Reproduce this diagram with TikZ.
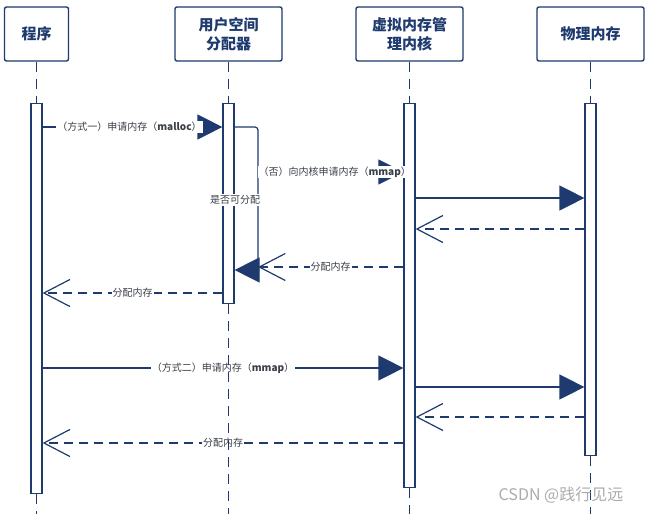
\documentclass[tikz,border=0pt]{standalone}
\usepackage{fontspec}
\setmainfont{Noto Sans CJK SC}
\usetikzlibrary{arrows.meta,positioning,calc}
\definecolor{Navy}{HTML}{1E3A6E}
\definecolor{Ink}{HTML}{3A3F48}
\definecolor{Mark}{HTML}{ABABAB}
\tikzset{
  actor/.style={draw=Navy,fill=white,line width=1.4pt,rounded corners=2pt,minimum width=107pt,minimum height=54pt,align=center,text=Navy,font=\fontsize{15}{19}\selectfont\bfseries},
  bar/.style={draw=Navy,fill=white,line width=1.2pt,minimum width=11pt,anchor=north,inner sep=0pt},
  life/.style={draw=Navy,line width=1.2pt,dash pattern=on 10pt off 7pt},
  call/.style={draw=Navy,line width=1.2pt,-{Triangle[length=25pt,width=25pt]}},
  reply/.style={draw=Navy,line width=1.2pt,dash pattern=on 9pt off 6pt,-{Straight Barb[length=26pt,width=27pt,line width=1.2pt]}},
  msg/.style={fill=white,text=Ink,inner sep=1pt,font=\fontsize{10}{11}\selectfont}
}
\begin{document}
\begin{tikzpicture}[x=1pt,y=-1pt]
  \useasboundingbox (0,0) rectangle (645,514);
  % participants
  \node[actor,minimum width=64pt] (prog) at (36.5,34) {程序};
  \node[actor] (alloc) at (228.5,34) {用户空间\\分配器};
  \node[actor] (kernel) at (409.5,34) {虚拟内存管\\理内核};
  \node[actor] (phys) at (590.5,34) {物理内存};
  \node[bar,minimum height=390pt] (progbar) at (36.5,103) {};
  \node[bar,minimum height=200pt] (allocbar) at (228.5,103) {};
  \node[bar,minimum height=384pt] (kernelbar) at (409.5,103) {};
  \node[bar,minimum height=352pt] (physbar) at (590.5,103) {};
  \coordinate (floor) at (0,514);
  \coordinate (turn) at (258,127);
  % way one: malloc
  \draw[call] (progbar.east |- 0,127) -- (allocbar.west |- 0,127) node[msg,midway,xshift=-3pt] {（方式一）申请内存（{\bfseries malloc}）};
  \draw[call,rounded corners=3pt] (allocbar.east |- 0,127) -- (turn) -- (turn |- 0,270) -- (allocbar.east |- 0,270);
  \draw[call] (turn |- 0,172) -- (kernelbar.west |- 0,172) node[msg,midway,xshift=4pt] {（否）向内核申请内存（{\bfseries mmap}）};
  \node[msg] (check) at (235,200) {是否可分配};
  \draw[call] (kernelbar.east |- 0,198) -- (physbar.west |- 0,198);
  \draw[reply] (physbar.west |- 0,229) -- (kernelbar.east |- 0,229);
  \draw[reply] (kernelbar.west |- 0,267) -- (turn |- 0,267) node[msg,midway] {分配内存};
  \draw[reply] (allocbar.west |- 0,293) -- (progbar.east |- 0,293) node[msg,midway] {分配内存};
  % way two: mmap
  \draw[call] (progbar.east |- 0,368) -- (kernelbar.west |- 0,368) node[msg,midway] {（方式二）申请内存（{\bfseries mmap}）};
  \draw[call] (kernelbar.east |- 0,387) -- (physbar.west |- 0,387);
  \draw[reply] (physbar.west |- 0,417) -- (kernelbar.east |- 0,417);
  \draw[reply] (kernelbar.west |- 0,443) -- (progbar.east |- 0,443) node[msg,midway] {分配内存};
  % lifelines
  \foreach \p in {prog,alloc,kernel,phys} {
    \draw[life] (\p.south) -- (\p bar.north);
    \draw[life] (\p bar.south) -- (\p bar.south |- floor);
  }
  \node[text=Mark,font=\fontsize{16}{16}\selectfont] (mark) at (561,495) {CSDN @践行见远};
\end{tikzpicture}
\end{document}
